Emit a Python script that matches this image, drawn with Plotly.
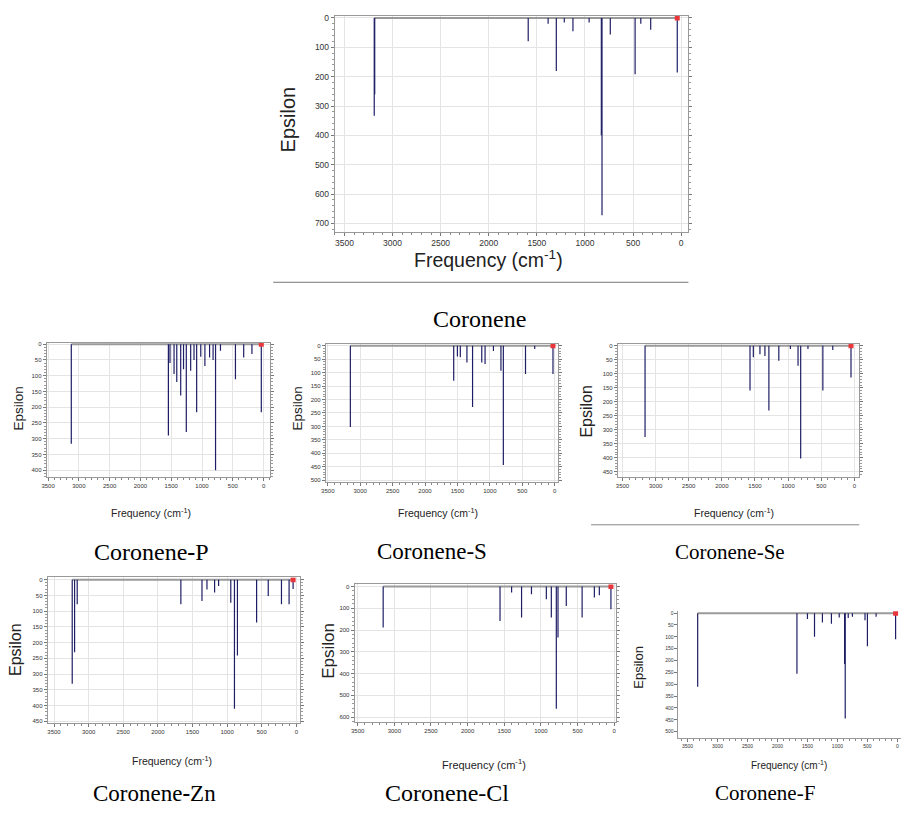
import plotly.graph_objects as go

W, H = 902, 817

# ---------------- data (frequency cm-1, epsilon) ----------------
coronene_freq = [3190, 3185, 1590, 1383, 1298, 1215, 1125, 957, 830, 823, 737, 479, 420, 317, 41]
coronene_eps = [333, 260, 79, 20, 181, 15, 45, 15, 400, 672, 56, 192, 20, 40, 186]

p_freq = [3123, 1546, 1520, 1454, 1410, 1346, 1300, 1255, 1184, 1130, 1087, 1020, 953, 877, 820, 780, 700, 457, 323, 189, 37]
p_eps = [316, 290, 60, 95, 120, 163, 80, 279, 84, 50, 216, 40, 69, 42, 50, 400, 21, 111, 42, 31, 216]

s_freq = [3152, 1557, 1500, 1455, 1353, 1266, 1124, 1073, 944, 828, 791, 449, 307, 25]
s_eps = [302, 130, 40, 43, 62, 228, 62, 68, 19, 93, 444, 105, 12, 105]

se_freq = [3160, 1575, 1525, 1425, 1350, 1290, 1140, 965, 850, 810, 700, 475, 325, 50]
se_eps = [326, 160, 41, 30, 36, 231, 53, 11, 71, 403, 11, 160, 15, 113]

zn_freq = [3237, 3203, 3165, 1668, 1363, 1291, 1181, 1123, 947, 894, 851, 574, 406, 215, 105, 47]
zn_eps = [331, 231, 78, 78, 68, 31, 41, 20, 73, 410, 241, 136, 52, 78, 78, 30]

cl_freq = [3152, 1558, 1400, 1264, 1129, 926, 858, 790, 767, 654, 438, 271, 203, 45]
cl_eps = [188, 158, 27, 142, 35, 58, 142, 562, 234, 89, 142, 50, 40, 104]

f_freq = [3330, 1675, 1500, 1382, 1250, 1100, 970, 880, 870, 820, 750, 540, 500, 355, 30]
f_eps = [311, 256, 25, 100, 40, 45, 18, 215, 445, 20, 15, 30, 140, 15, 110]

x_ticks = [3500, 3000, 2500, 2000, 1500, 1000, 500, 0]
captions = ["Coronene", "Coronene<b>-</b>P", "Coronene-S", "Coronene-Se",
            "Coronene<b>-</b>Zn", "Coronene-Cl", "Coronene-F"]

# ---------------- layout of panels (pixel frames) ----------------
panels = [
    dict(f=coronene_freq, e=coronene_eps, box=(332, 688, 13, 230), xr=[3600, -75], yr=[728, -7], dy=100, tf=8.5,
         af=19.5, efs=20, ep=(285, 117), fq=(487, 258)),
    dict(f=p_freq, e=p_eps, box=(42, 267, 342, 477), xr=[3522, -108], yr=[422, -4], dy=50, tf=6, af=10.5, efs=13.5,
         ep=(14, 408), fq=(147, 513)),
    dict(f=s_freq, e=s_eps, box=(323, 557, 343, 482), xr=[3530, -57], yr=[507, -7], dy=50, tf=6, af=10.5, efs=13.5,
         ep=(294, 408), fq=(436, 513)),
    dict(f=se_freq, e=se_eps, box=(617, 860, 343, 477), xr=[3570, -75], yr=[469, -7], dy=50, tf=6, af=10.5, efs=16,
         ep=(585, 411), fq=(734, 513)),
    dict(f=zn_freq, e=zn_eps, box=(43, 297, 578, 724), xr=[3591, -53], yr=[454, -7], dy=50, tf=6, af=10.5, efs=16,
         ep=(10, 651), fq=(168, 762)),
    dict(f=cl_freq, e=cl_eps, box=(352, 615, 585, 723), xr=[3541, -23], yr=[621, -10], dy=100, tf=6, af=11, efs=17,
         ep=(325, 652), fq=(482, 766)),
    dict(f=f_freq, e=f_eps, box=(678, 902, 612, 740), xr=[3650, -60], yr=[529, -8], dy=50, tf=5, af=10, efs=13,
         ep=(638, 668), fq=(789, 767), plain=True),
]
caption_pos = [(478, 318), (147, 552), (430, 552), (730, 552), (150, 795), (445, 795), (765, 795)]
caption_size = [24, 24, 23, 21, 23, 24, 21]

fig = go.Figure()
layout = {}
annotations = []
shapes = []

for i, p in enumerate(panels):
    n = i + 1
    xa = "xaxis" if n == 1 else f"xaxis{n}"
    ya = "yaxis" if n == 1 else f"yaxis{n}"
    xref = "x" if n == 1 else f"x{n}"
    yref = "y" if n == 1 else f"y{n}"
    x0, x1, y0, y1 = p["box"]
    plain = p.get("plain", False)

    # stick spectrum built from the peak lists
    pairs = sorted(zip(p["f"], p["e"]), key=lambda t: -t[0])
    xs, ys = [], []
    for fr, ep in pairs:
        xs += [fr, fr, fr, None]
        ys += [0, ep, 0, None]
    fig.add_trace(go.Scatter(x=[pairs[0][0], pairs[-1][0]], y=[0, 0], mode="lines",
                             line=dict(color="#9a9a9a", width=2), xaxis=xref, yaxis=yref,
                             showlegend=False, hoverinfo="skip"))
    fig.add_trace(go.Scatter(x=xs, y=ys, mode="lines", line=dict(color="#1e1e66", width=1.2),
                             xaxis=xref, yaxis=yref, showlegend=False))
    fig.add_trace(go.Scatter(x=[pairs[-1][0]], y=[0], mode="markers",
                             marker=dict(color="#e8363a", size=5, symbol="square"),
                             xaxis=xref, yaxis=yref, showlegend=False))

    xdict = dict(
        domain=[x0 / W, x1 / W], range=p["xr"], anchor=yref,
        tickvals=x_ticks, ticks="outside", ticklen=3, tickcolor="#777",
        minor=dict(ticks="outside", dtick=100, ticklen=2, tickcolor="#888"),
        showline=True, linecolor="#999", linewidth=1, mirror=not plain,
        showgrid=not plain, gridcolor="#e4e4e4", gridwidth=1,
        tickfont=dict(size=p["tf"], family="Liberation Sans", color="#333"),
        zeroline=False,
    )
    ydict = dict(
        domain=[1 - y1 / H, 1 - y0 / H], range=p["yr"], anchor=xref,
        dtick=p["dy"], tick0=0, ticks="outside", ticklen=3, tickcolor="#777",
        showline=True, linecolor="#999", linewidth=1, mirror="ticks" if not plain else False,
        showgrid=not plain, gridcolor="#e4e4e4", gridwidth=1,
        tickfont=dict(size=p["tf"], family="Liberation Sans", color="#333"),
        zeroline=False,
    )
    if not plain:
        ydict["minor"] = dict(ticks="outside", dtick=p["dy"] / 5, ticklen=2, tickcolor="#999")
    layout[xa] = xdict
    layout[ya] = ydict

    # axis titles
    annotations.append(dict(text="Frequency (cm<sup>-1</sup>)", x=p["fq"][0] / W, y=1 - p["fq"][1] / H,
                            xref="paper", yref="paper", showarrow=False, xanchor="center", yanchor="middle",
                            font=dict(size=p["af"], family="Liberation Sans", color="#222")))
    annotations.append(dict(text="Epsilon", x=p["ep"][0] / W, y=1 - p["ep"][1] / H, textangle=-90,
                            xref="paper", yref="paper", showarrow=False, xanchor="center", yanchor="middle",
                            font=dict(size=p["efs"], family="Liberation Sans", color="#222")))
    # caption
    cx, cy = caption_pos[i]
    annotations.append(dict(text=captions[i], x=cx / W, y=1 - cy / H, xref="paper", yref="paper",
                            showarrow=False, xanchor="center", yanchor="middle",
                            font=dict(size=caption_size[i], family="Liberation Serif", color="#000")))

# separator lines
shapes.append(dict(type="line", xref="paper", yref="paper", x0=270 / W, x1=688 / W,
                   y0=1 - 281 / H, y1=1 - 281 / H, line=dict(color="#777", width=1)))
shapes.append(dict(type="line", xref="paper", yref="paper", x0=590 / W, x1=860 / W,
                   y0=1 - 525 / H, y1=1 - 525 / H, line=dict(color="#888", width=1)))

fig.update_layout(width=W, height=H, margin=dict(l=0, r=0, t=0, b=0),
                  paper_bgcolor="white", plot_bgcolor="white",
                  annotations=annotations, shapes=shapes, **layout)

fig.write_html("out.html", config={"displayModeBar": False},
               post_script="document.body.style.margin='0';")
